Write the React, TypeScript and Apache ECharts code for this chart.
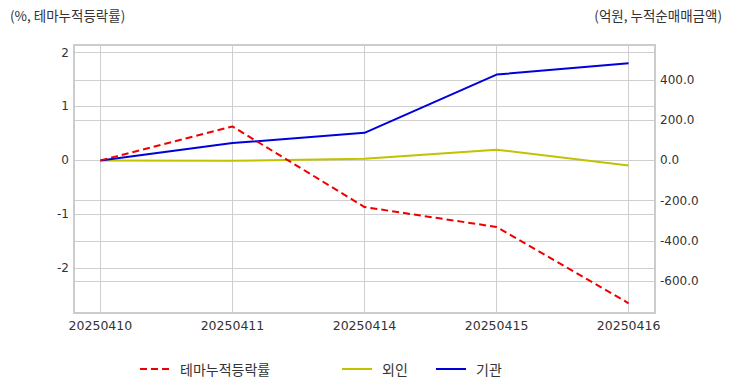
import React, { useEffect, useRef } from "react";
import * as echarts from "echarts";

const categories = ["20250410", "20250411", "20250414", "20250415", "20250416"];
const themeReturn = [0, 0.63, -0.865, -1.235, -2.65];
const foreign = [0, -2, 8, 53, -25];
const institution = [0, 86, 137, 427, 483];

const leftRange = [-2.83, 2.14];
const rightRange = [-759, 574];
const xRange = [-0.2, 4.2];

const FONT = "'Noto Sans CJK KR', 'Noto Sans', sans-serif";
const NUM_FONT = "'DejaVu Sans', 'Noto Sans CJK KR', sans-serif";

const GRID = { left: 74, right: 77, top: 45, bottom: 79 };
const LINE_GRAY = "#cfcfcf";

export default function App() {
  const ref = useRef<HTMLDivElement>(null);
  useEffect(() => {
    if (!ref.current) return;
    const chart = echarts.init(ref.current, undefined, { renderer: "svg" });
    const toPairs = (arr: number[]) => arr.map((v, i) => [i, v]);
    const legendBase = {
      top: 362,
      padding: 0,
      itemWidth: 30,
      itemHeight: 14,
      itemStyle: { opacity: 0 },
      textStyle: { fontSize: 14, color: "#333", fontFamily: FONT, padding: [0, 0, 0, 5] },
    };
    chart.setOption({
      animation: false,
      backgroundColor: "#ffffff",
      textStyle: { fontFamily: FONT },
      grid: { ...GRID, show: false },
      xAxis: {
        type: "value",
        min: xRange[0],
        max: xRange[1],
        splitNumber: 5,
        axisLine: { show: false },
        axisTick: { show: false },
        splitLine: { show: true, lineStyle: { color: LINE_GRAY, width: 1 } },
        axisLabel: {
          showMinLabel: false,
          showMaxLabel: false,
          margin: 6,
          fontSize: 12.5,
          color: "#333",
          fontFamily: NUM_FONT,
          formatter: (v: number) =>
            Number.isInteger(v) && categories[v] !== undefined ? categories[v] : "",
        },
      },
      yAxis: [
        {
          type: "value",
          min: leftRange[0],
          max: leftRange[1],
          splitNumber: 5,
          axisLine: { show: false },
          axisTick: { show: false },
          splitLine: { show: true, lineStyle: { color: LINE_GRAY, width: 1 } },
          axisLabel: {
            showMinLabel: false,
            showMaxLabel: false,
            margin: 5,
            fontSize: 12,
            color: "#333",
            fontFamily: NUM_FONT,
            formatter: (v: number) => String(v),
          },
        },
        {
          type: "value",
          min: rightRange[0],
          max: rightRange[1],
          splitNumber: 6,
          position: "right",
          axisLine: { show: false },
          axisTick: { show: false },
          splitLine: { show: true, lineStyle: { color: LINE_GRAY, width: 1 } },
          axisLabel: {
            showMinLabel: false,
            showMaxLabel: false,
            margin: 5,
            fontSize: 12,
            color: "#333",
            fontFamily: NUM_FONT,
            formatter: (v: number) => v.toFixed(1),
          },
        },
      ],
      legend: [
        { ...legendBase, left: 139, data: ["테마누적등락률"] },
        { ...legendBase, left: 341, data: ["외인"] },
        { ...legendBase, left: 435, data: ["기관"] },
      ],
      graphic: [
        {
          type: "rect",
          z: 100,
          silent: true,
          shape: {
            x: GRID.left,
            y: GRID.top,
            width: 732 - GRID.left - GRID.right,
            height: 392 - GRID.top - GRID.bottom,
          },
          style: { fill: "none", stroke: "#cccccc", lineWidth: 2 },
        },
        {
          type: "text",
          left: 10,
          top: 8,
          style: { text: "(%, 테마누적등락률)", fontSize: 13.5, fill: "#333", fontFamily: FONT },
        },
        {
          type: "text",
          right: 10,
          top: 8,
          style: { text: "(억원, 누적순매매금액)", fontSize: 13.5, fill: "#333", fontFamily: FONT },
        },
      ],
      series: [
        {
          name: "테마누적등락률",
          type: "line",
          yAxisIndex: 0,
          data: toPairs(themeReturn),
          symbol: "none",
          lineStyle: { color: "#ee0000", width: 2, type: [7, 4] },
          itemStyle: { color: "#ee0000" },
          z: 3,
        },
        {
          name: "외인",
          type: "line",
          yAxisIndex: 1,
          data: toPairs(foreign),
          symbol: "none",
          lineStyle: { color: "#c2c200", width: 2 },
          itemStyle: { color: "#c2c200" },
          z: 2,
        },
        {
          name: "기관",
          type: "line",
          yAxisIndex: 1,
          data: toPairs(institution),
          symbol: "none",
          lineStyle: { color: "#0000dd", width: 2 },
          itemStyle: { color: "#0000dd" },
          z: 2,
        },
      ],
    });
    return () => chart.dispose();
  }, []);
  return (
    <div
      ref={ref}
      style={{ position: "fixed", left: 0, top: 0, width: 732, height: 392, background: "#fff" }}
    />
  );
}
